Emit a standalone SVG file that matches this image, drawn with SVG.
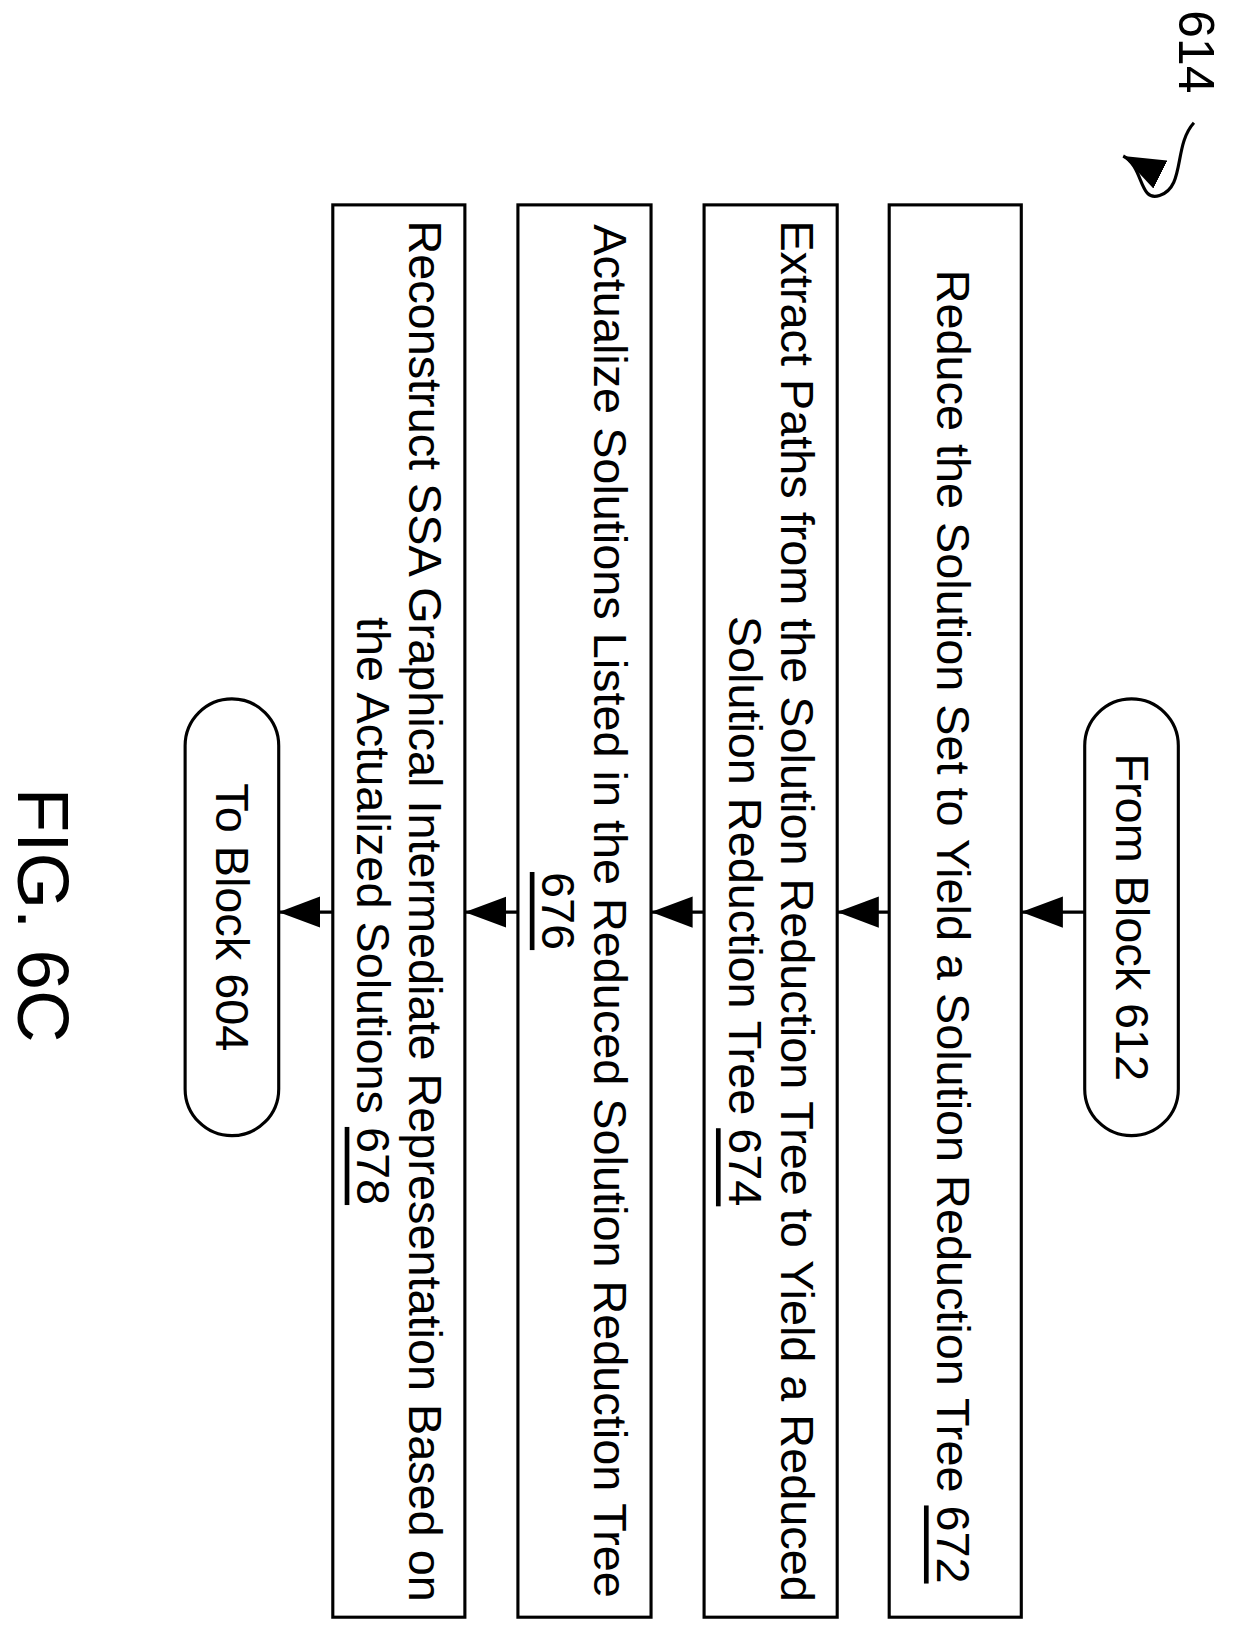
<svg xmlns="http://www.w3.org/2000/svg" width="1236" height="1646" viewBox="0 0 1236 1646">
<style>
.b{fill:#fff;stroke:#000;stroke-width:3}
.t{font-family:"Liberation Sans",Arial,sans-serif;font-size:45px;fill:#000;text-anchor:middle;dominant-baseline:central}
.c{stroke:#000;stroke-width:3;fill:none}
</style>
<defs>
<marker id="a" viewBox="0 0 40 30" refX="40" refY="15" markerWidth="40" markerHeight="30" markerUnits="userSpaceOnUse" orient="auto"><path d="M0,0 L40,15 L0,30 Z" fill="#000"/></marker></defs>
<g transform="scale(1.04)">
<g id="connectors">
<line class="c" x1="1043" y1="877" x2="982" y2="877" marker-end="url(#a)"/>
<line class="c" x1="855" y1="877" x2="805" y2="877" marker-end="url(#a)"/>
<line class="c" x1="677" y1="877" x2="626" y2="877" marker-end="url(#a)"/>
<line class="c" x1="498" y1="877" x2="447" y2="877" marker-end="url(#a)"/>
<line class="c" x1="320" y1="877" x2="268" y2="877" marker-end="url(#a)"/>
</g>
<g id="start"><rect class="b" x="1043" y="672" width="90" height="420" rx="45"/>
<text class="t" transform="translate(1088,882) rotate(90)">From Block 612</text></g>
<g id="n672"><rect class="b" x="855" y="197" width="127" height="1358"/>
<text class="t" transform="translate(916,891) rotate(90)">Reduce the Solution Set to Yield a Solution Reduction Tree <tspan text-decoration="underline">672</tspan></text></g>
<g id="n674"><rect class="b" x="677" y="197" width="128" height="1358"/>
<text class="t" transform="translate(766,876) rotate(90)">Extract Paths from the Solution Reduction Tree to Yield a Reduced</text>
<text class="t" transform="translate(716,876) rotate(90)">Solution Reduction Tree <tspan text-decoration="underline">674</tspan></text></g>
<g id="n676"><rect class="b" x="498" y="197" width="128" height="1358"/>
<text class="t" transform="translate(587,876) rotate(90)">Actualize Solutions Listed in the Reduced Solution Reduction Tree</text>
<text class="t" transform="translate(537,876) rotate(90)"><tspan text-decoration="underline">676</tspan></text></g>
<g id="n678"><rect class="b" x="320" y="197" width="127" height="1358"/>
<text class="t" transform="translate(409,876) rotate(90)">Reconstruct SSA Graphical Intermediate Representation Based on</text>
<text class="t" transform="translate(359,876) rotate(90)">the Actualized Solutions <tspan text-decoration="underline">678</tspan></text></g>
<g id="end"><rect class="b" x="178" y="672" width="90" height="420" rx="45"/>
<text class="t" transform="translate(223,882) rotate(90)">To Block 604</text></g>
<text class="t" style="font-size:70px" transform="translate(42,880) rotate(90)">FIG. 6C</text>
<text class="t" style="font-size:48px" transform="translate(1150,50) rotate(90)">614</text>
<path class="c" d="M1148,118 C1128,140 1140,180 1115,188 C1095,195 1100,160 1080,150" marker-end="url(#a)"/>
</g>
</svg>
